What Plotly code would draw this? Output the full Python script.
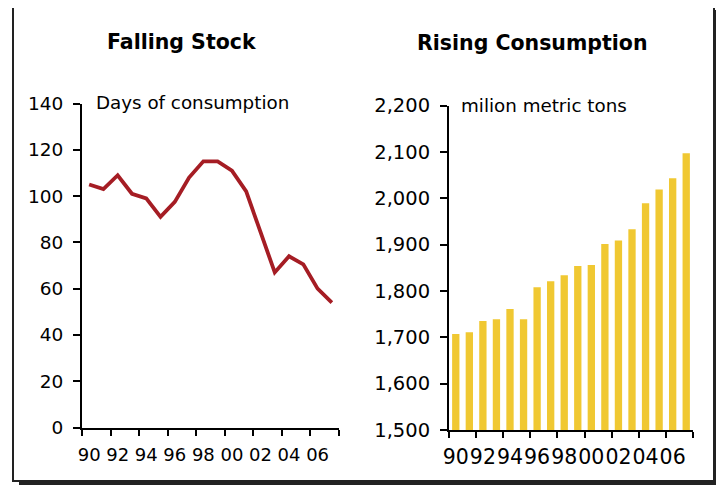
import plotly.graph_objects as go

# data
years = list(range(1990, 2008))
stock_days = [105, 103, 109, 101, 99, 91, 97.5, 108, 115, 115, 111, 102, 84.5, 67, 74, 70.5, 60, 54]
consumption = [1707, 1711, 1735, 1739, 1761, 1739, 1808, 1821, 1834, 1854, 1856,
               1901, 1909, 1933, 1989, 2019, 2043, 2097]
tick_years = list(range(1990, 2008, 2))
tick_text = ["90", "92", "94", "96", "98", "00", "02", "04", "06"]
bounds = [y - 0.5 for y in range(1990, 2009, 2)]

W, H = 724, 485
OFF = 8  # page body margin shifts the figure by 8px
FONT = "DejaVu Sans"


def px(x):
    return (x - OFF) / W


def py(y):
    return (H - (y - OFF)) / H


def xaxis(size, standoff):
    return dict(range=[1989.5, 2007.5], tickmode="array", tickvals=tick_years,
                ticktext=tick_text, ticks="", showline=True, linecolor="black",
                linewidth=2, showgrid=False, zeroline=False, tickangle=0,
                automargin=False, ticklabelstandoff=standoff,
                minor=dict(tickmode="array", tickvals=bounds, ticks="outside",
                           ticklen=6, tickwidth=2, tickcolor="black", showgrid=False),
                tickfont=dict(family=FONT, size=size, color="black"))


def yaxis(size):
    return dict(showline=True, linecolor="black", linewidth=2, ticks="outside",
                ticklen=7, tickwidth=2, tickcolor="black", showgrid=False,
                zeroline=False, automargin=False, ticklabelstandoff=6,
                tickfont=dict(family=FONT, size=size, color="black"))


def label(text, x, y, size, anchor="left"):
    return dict(text=text, x=px(x), y=py(y), xref="paper", yref="paper",
                xanchor=anchor, yanchor="middle", showarrow=False,
                font=dict(family=FONT, size=size, color="black"))


fig = go.Figure()
fig.add_trace(go.Scatter(x=years, y=stock_days, mode="lines",
                         line=dict(color="#a51d24", width=3.8),
                         xaxis="x", yaxis="y", showlegend=False))
fig.add_trace(go.Bar(x=years, y=consumption, marker_color="#f0c832",
                     marker_line_width=0, xaxis="x2", yaxis="y2", showlegend=False))

fig.update_layout(
    width=W, height=H, margin=dict(l=0, r=0, t=0, b=0, autoexpand=False),
    paper_bgcolor="white", plot_bgcolor="rgba(0,0,0,0)",
    bargap=0.46, showlegend=False,
    xaxis=dict(xaxis(18, 10), domain=[px(82), px(339)], anchor="y"),
    yaxis=dict(yaxis(18.5), domain=[py(427.5), py(103.5)], range=[0, 140],
               tickvals=list(range(0, 141, 20)), anchor="x"),
    xaxis2=dict(xaxis(20.5, 7), domain=[px(449), px(693)], anchor="y2"),
    yaxis2=dict(yaxis(19.5), domain=[py(430), py(105.5)], range=[1500, 2200],
                tickvals=list(range(1500, 2201, 100)), tickformat=",", anchor="x2"),
    shapes=[
        dict(type="rect", xref="paper", yref="paper", layer="below",
             x0=px(19), x1=px(721), y0=py(492), y1=py(10),
             fillcolor="#222222", line=dict(width=0)),
        dict(type="rect", xref="paper", yref="paper", layer="below",
             x0=px(13), x1=px(714), y0=py(481), y1=py(5),
             fillcolor="white", line=dict(color="#222222", width=2)),
    ],
    annotations=[
        label("<b>Falling Stock</b>", 182, 42, 20.5, "center"),
        label("<b>Rising Consumption</b>", 532, 43, 20.5, "center"),
        label("Days of consumption", 94, 103, 18.3),
        label("milion metric tons", 459, 106, 18.3),
    ],
)

fig.write_html("out.html")
